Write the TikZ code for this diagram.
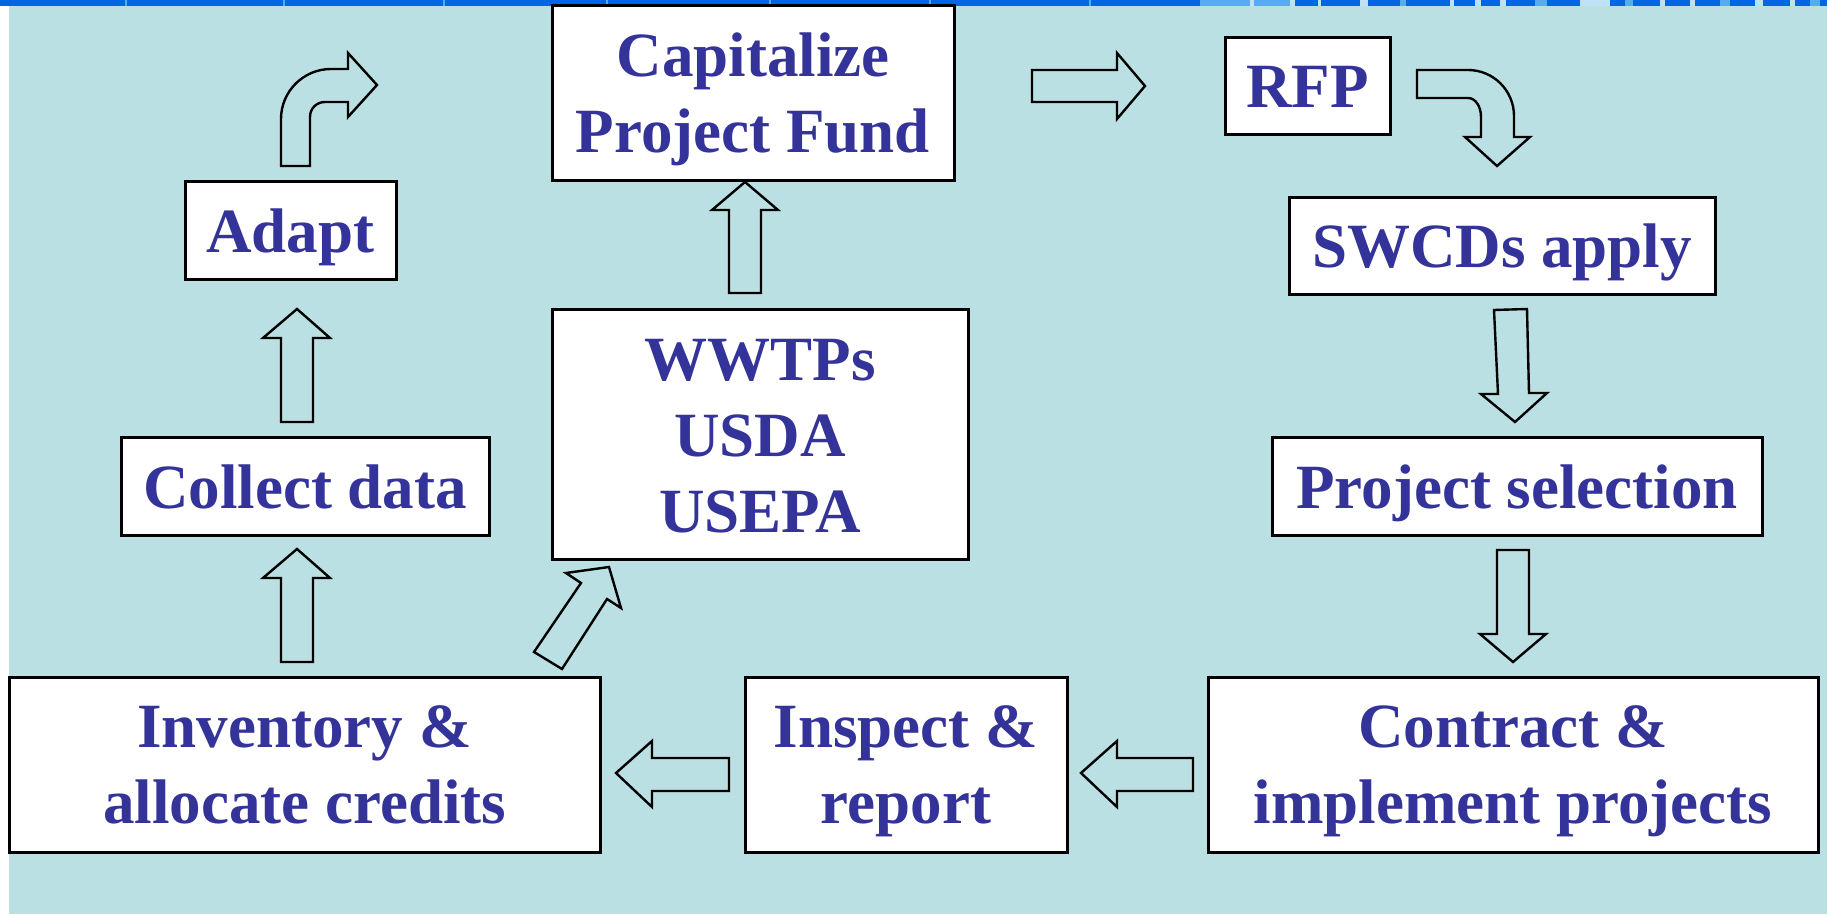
\documentclass[tikz,border=0pt]{standalone}
\usepackage{fontspec}
\setmainfont{Liberation Serif}
\definecolor{bgc}{RGB}{187,224,227}
\definecolor{txtblue}{RGB}{51,51,153}
\definecolor{barblue}{RGB}{0,102,230}
\definecolor{barlight}{RGB}{90,170,240}
\definecolor{barpale}{RGB}{190,225,245}
\newcommand\lstrut{\rule[-0.216em]{0pt}{1.107em}}
\begin{document}
\begin{tikzpicture}[x=0.5pt,y=-0.5pt,
  box/.style={draw=black, line width=1.5pt, fill=white, inner sep=0pt, align=center,
    font=\fontsize{31.5}{38}\selectfont\bfseries, text=txtblue},
  barrow/.style={draw=black, line width=1.2pt, line join=miter}]
\useasboundingbox (0,0) rectangle (1827,914);
\fill[white] (0,0) rectangle (1827,914);
\fill[bgc] (9,0) rectangle (1827,914);
% top bar
\fill[barblue] (0,0) rectangle (1827,6);
\foreach \x in {125,283,443,606,769,929,1089}{\fill[barlight] (\x,0) rectangle ++(2,6);}
\foreach \x/\w/\c in {1200/90/barlight,1250/4/barpale,1290/5/barpale,1318/3/barpale,1360/8/barpale,1400/6/barlight,1450/4/barpale,1475/6/barpale,1500/6/barpale,1535/12/barlight,1580/30/barpale,1625/8/barlight,1660/5/barpale,1690/5/barpale,1720/10/barlight,1755/8/barpale,1790/5/barpale,1810/10/barlight}{\fill[\c] (\x,0) rectangle ++(\w,6);}
% boxes
\node[box, minimum width=201pt, minimum height=87.5pt] (cap) at (753,93.5) {\lstrut Capitalize\\\lstrut Project Fund};
\node[box, minimum width=82.5pt, minimum height=48.5pt] (rfp) at (1307.5,86.5) {\lstrut RFP};
\node[box, minimum width=213pt, minimum height=48.5pt] (swcd) at (1502,246.5) {\lstrut SWCDs apply};
\node[box, minimum width=245pt, minimum height=49pt] (psel) at (1517,487) {\lstrut Project selection};
\node[box, minimum width=305pt, minimum height=87.5pt] (contract) at (1513,764.5) {\lstrut Contract \&\\\lstrut implement projects};
\node[box, minimum width=161pt, minimum height=87.5pt] (inspect) at (906,764.5) {\lstrut Inspect \&\\\lstrut report};
\node[box, minimum width=295.5pt, minimum height=87.5pt] (inv) at (304.5,764.5) {\lstrut Inventory \&\\\lstrut allocate credits};
\node[box, minimum width=184pt, minimum height=49pt] (collect) at (305,487) {\lstrut Collect data};
\node[box, minimum width=105.5pt, minimum height=49pt] (adapt) at (290.5,231) {\lstrut Adapt};
\node[box, minimum width=208pt, minimum height=125pt] (wwtp) at (760,435) {\lstrut WWTPs\\\lstrut USDA\\\lstrut USEPA};
% block arrows
\draw[barrow] (281,166) -- (281,119) .. controls (281,91.4) and (303.4,69) .. (331,69)
  -- (348,69) -- (348,53) -- (377,85) -- (348,117) -- (348,102) -- (325,102)
  .. controls (316.7,102) and (310,108.3) .. (310,117) -- (310,166) -- cycle;
\draw[barrow] (1032,70) -- (1117,70) -- (1117,53) -- (1145,86) -- (1117,119) -- (1117,102) -- (1032,102) -- cycle;
\draw[barrow] (1417,70) -- (1468,70) .. controls (1493.4,70) and (1514,90.6) .. (1514,116)
  -- (1514,137) -- (1530,137) -- (1497,166) -- (1465,137) -- (1481,137) -- (1481,117)
  .. controls (1481,106.5) and (1475.5,98) .. (1468,98) -- (1417,98) -- cycle;
\draw[barrow] (1494,310) -- (1527,309) -- (1529,393) -- (1547,393) -- (1515,422) -- (1481,394) -- (1498,394) -- cycle;
\draw[barrow] (1497,550) -- (1529,550) -- (1529,634) -- (1546,634) -- (1513,662) -- (1480,634) -- (1497,634) -- cycle;
\draw[barrow] (1193,758) -- (1117,758) -- (1117,741) -- (1081,773) -- (1117,807) -- (1117,791) -- (1193,791) -- cycle;
\draw[barrow] (729,758) -- (652,758) -- (652,741) -- (616,773) -- (652,807) -- (652,791) -- (729,791) -- cycle;
\draw[barrow] (281,422) -- (281,338) -- (263,338) -- (297,309) -- (330,338) -- (313,338) -- (313,422) -- cycle;
\draw[barrow] (281,662) -- (281,578) -- (263,578) -- (297,549) -- (330,578) -- (313,578) -- (313,662) -- cycle;
\draw[barrow] (729,293) -- (729,210) -- (712,210) -- (745,182) -- (778,210) -- (761,210) -- (761,293) -- cycle;
\draw[barrow] (534,652) -- (581,583) -- (566,573) -- (609,567) -- (621,608) -- (607,599) -- (562,669) -- cycle;
\end{tikzpicture}
\end{document}
